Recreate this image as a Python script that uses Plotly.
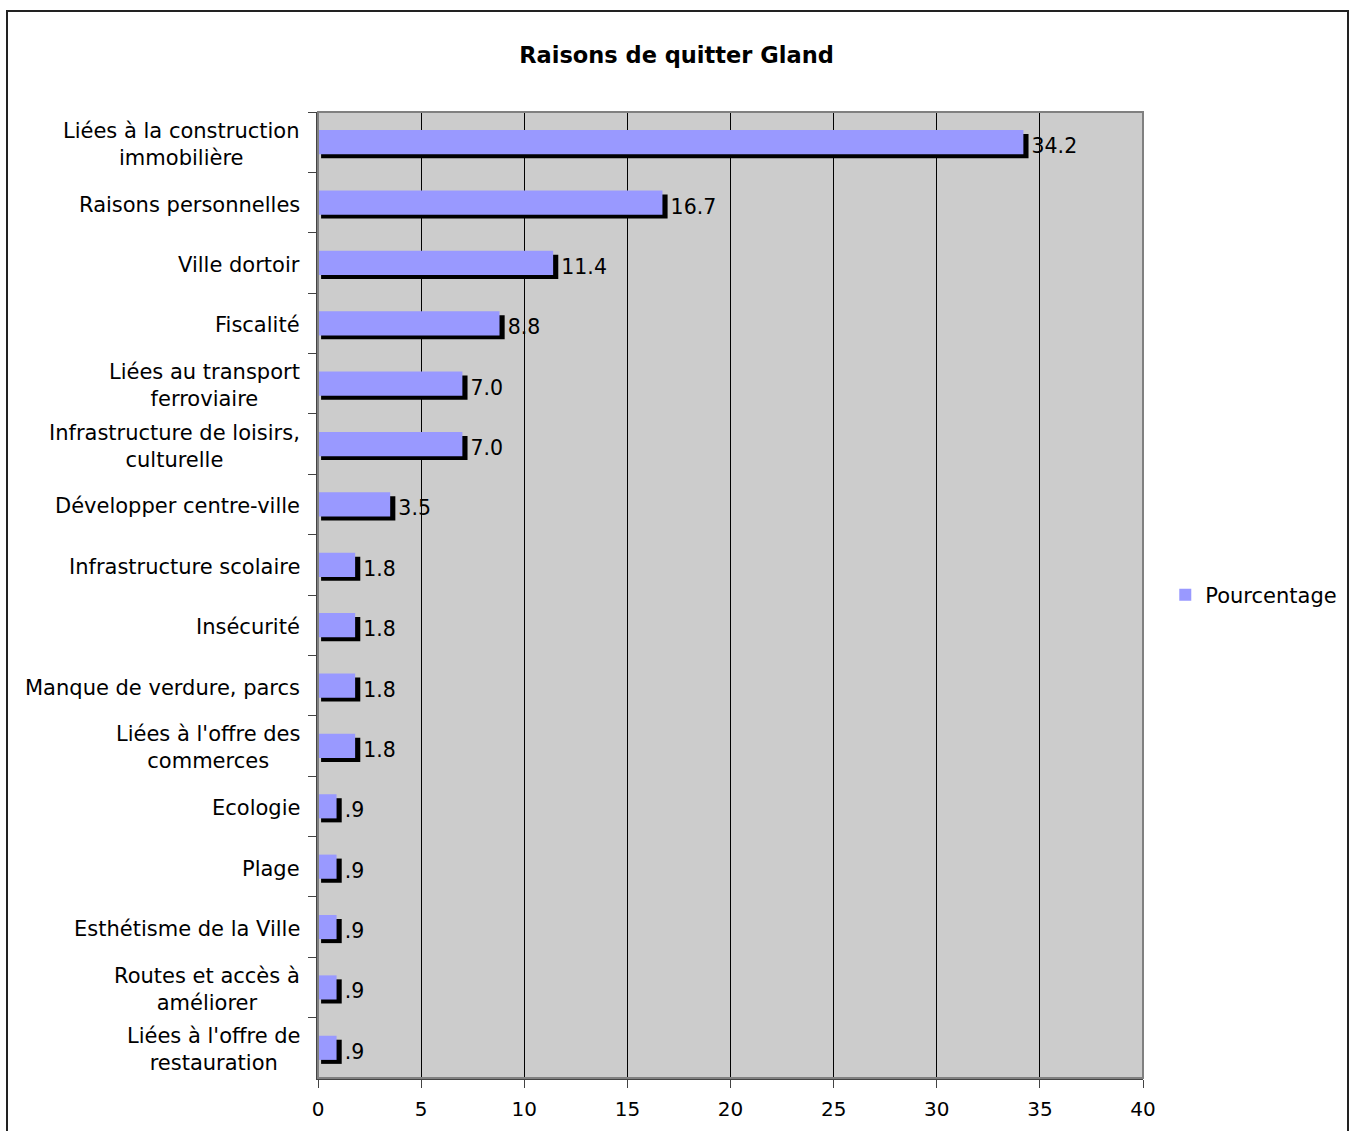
import plotly.graph_objects as go

# Survey results: reasons for leaving Gland (percent of respondents)
categories = [
    "Liées à la construction<br>immobilière",
    "Raisons personnelles",
    "Ville dortoir",
    "Fiscalité",
    "Liées au transport<br>ferroviaire",
    "Infrastructure de loisirs,<br>culturelle",
    "Développer centre-ville",
    "Infrastructure scolaire",
    "Insécurité",
    "Manque de verdure, parcs",
    "Liées à l'offre des<br>commerces",
    "Ecologie",
    "Plage",
    "Esthétisme de la Ville",
    "Routes et accès à<br>améliorer",
    "Liées à l'offre de<br>restauration",
]
pourcentage = [34.2, 16.7, 11.4, 8.8, 7.0, 7.0, 3.5, 1.8, 1.8, 1.8, 1.8, 0.9, 0.9, 0.9, 0.9, 0.9]
x_ticks = [0, 5, 10, 15, 20, 25, 30, 35, 40]

# Excel-style "#.0" number format (no leading zero)
value_labels = [f"{v:.1f}".lstrip("0") for v in pourcentage]

FONT = "DejaVu Sans"
BAR_COLOR = "#9999FF"
W, H = 1353, 1131
L, R, T, B = 318, 210, 112, 53
plot_w = W - L - R
plot_h = H - T - B

fig = go.Figure()

# drop shadow under each bar, shifted right and down
fig.add_trace(go.Bar(
    y=categories,
    x=[v + 0.1 for v in pourcentage],
    base=0.15,
    orientation="h",
    width=0.4,
    offset=-0.2 + 0.066,
    marker=dict(color="black", line=dict(width=0)),
    text=value_labels,
    textposition="outside",
    textfont=dict(family=FONT, size=20.5, color="black"),
    cliponaxis=False,
    showlegend=False,
    hoverinfo="skip",
))

fig.add_trace(go.Bar(
    y=categories,
    x=pourcentage,
    orientation="h",
    width=0.4,
    offset=-0.2,
    name="Pourcentage",
    marker=dict(color=BAR_COLOR, line=dict(width=0)),
    showlegend=True,
))

# category labels, right-aligned to the axis with centered lines
annotations = [
    dict(
        x=0, xref="paper", y=c, yref="y",
        text=c, showarrow=False,
        xanchor="right", xshift=-16, yshift=-2, align="center",
        font=dict(family=FONT, size=21, color="black"),
    )
    for c in categories
]

def px_to_paper_x(px):
    return (px - L) / plot_w

def px_to_paper_y(py):
    return (H - B - py) / plot_h

shapes = [
    # outer chart frame
    dict(type="rect", xref="paper", yref="paper",
         x0=px_to_paper_x(7), x1=px_to_paper_x(1348),
         y0=px_to_paper_y(1160), y1=px_to_paper_y(11),
         line=dict(color="#222222", width=2), fillcolor="rgba(0,0,0,0)", layer="above"),
    # plot area border (top/right)
    dict(type="rect", xref="paper", yref="paper", x0=0, x1=1, y0=0, y1=1,
         line=dict(color="#808080", width=2), fillcolor="rgba(0,0,0,0)", layer="above"),
]

fig.update_layout(
    width=W, height=H,
    margin=dict(l=L, r=R, t=T, b=B, autoexpand=False),
    paper_bgcolor="white",
    plot_bgcolor="#CCCCCC",
    barmode="overlay",
    title=dict(
        text="<b>Raisons de quitter Gland</b>",
        x=0.5, xref="container", xanchor="center",
        y=1 - 55 / H, yref="container", yanchor="middle",
        font=dict(family=FONT, size=22.5, color="black"),
    ),
    font=dict(family=FONT, size=20, color="black"),
    legend=dict(
        x=1.027, xanchor="left", y=0.5, yanchor="middle",
        font=dict(family=FONT, size=21, color="black"),
        bgcolor="rgba(0,0,0,0)",
    ),
    annotations=annotations,
    shapes=shapes,
)

fig.update_xaxes(
    range=[0, 40],
    tickvals=x_ticks,
    ticks="outside", ticklen=8, tickcolor="#444444", tickwidth=1,
    ticklabelstandoff=4,
    showgrid=True, gridcolor="black", gridwidth=1,
    showline=True, linecolor="#444444", linewidth=2,
    zeroline=False,
    tickfont=dict(family=FONT, size=20, color="black"),
    fixedrange=True,
)

fig.update_yaxes(
    type="category",
    categoryorder="array", categoryarray=categories,
    autorange="reversed",
    showticklabels=False,
    ticks="outside", ticklen=8, tickcolor="#444444", tickson="boundaries",
    showgrid=False,
    showline=True, linecolor="#444444", linewidth=2,
    fixedrange=True,
)

fig.write_html("out.html")
